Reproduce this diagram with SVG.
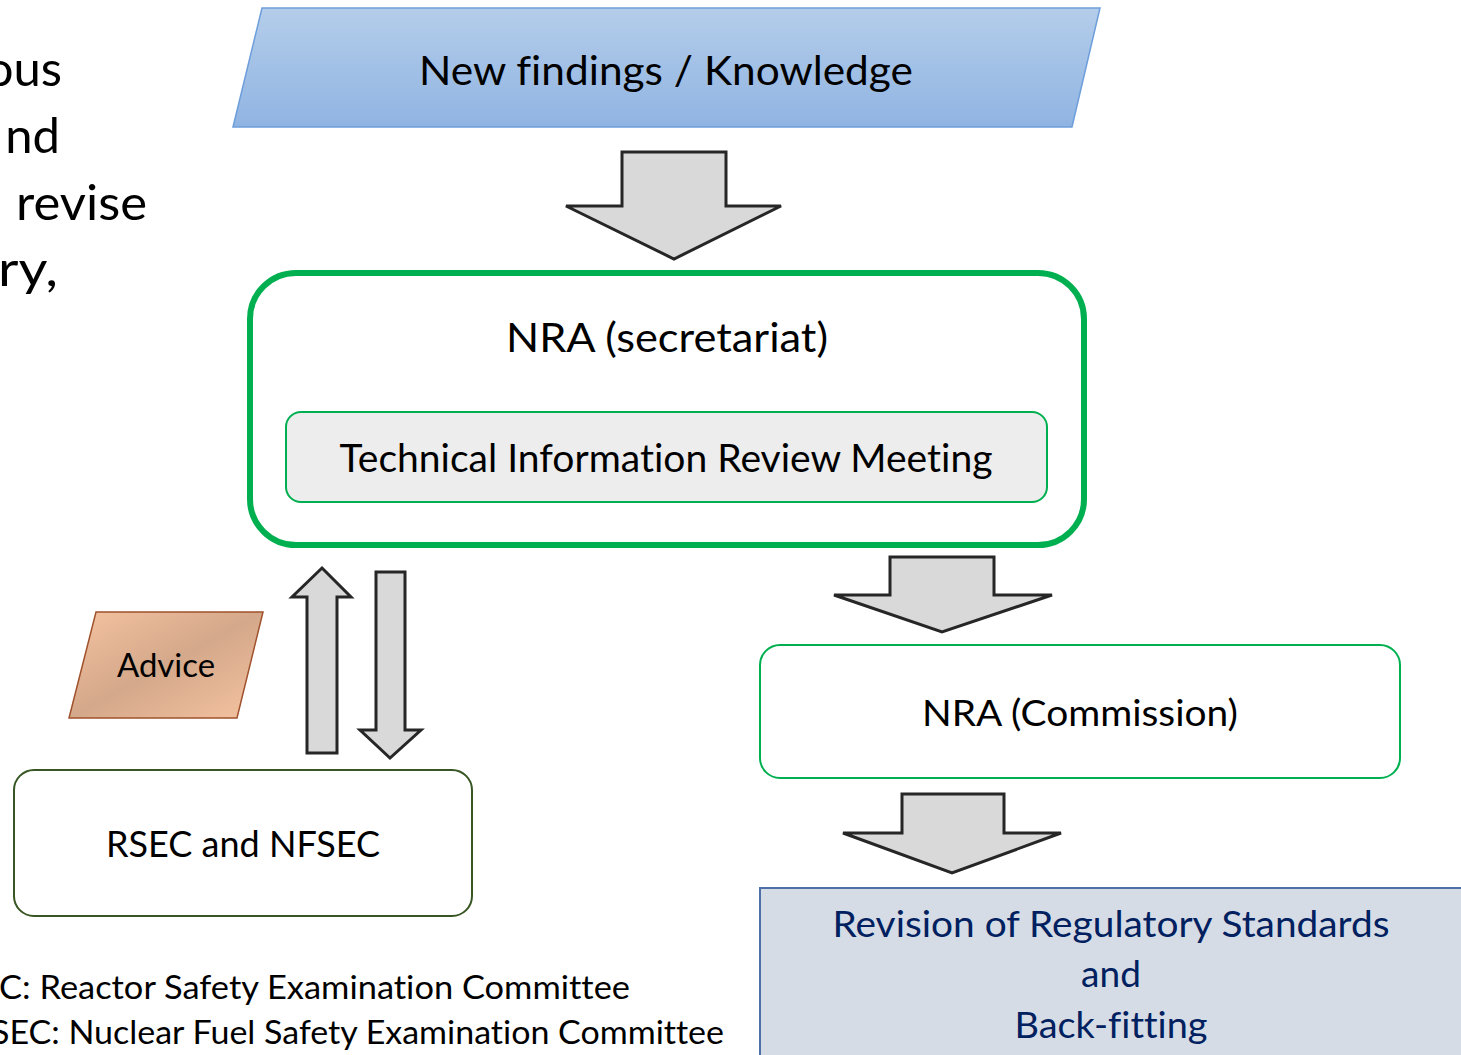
<svg xmlns="http://www.w3.org/2000/svg" width="1461" height="1055" viewBox="0 0 1461 1055">
  <style>
    text { font-family: Lato, "Open Sans", "Liberation Sans", sans-serif; fill: #000; font-variant-ligatures: none; }
    .block { fill: #d9d9d9; stroke: #262626; stroke-width: 3; stroke-linejoin: miter; }
    .green { fill: #fff; stroke: #00b050; stroke-width: 2; }
    .mid { text-anchor: middle; }
    .navy { fill: #002060; }
  </style>
  <defs>
    <linearGradient id="blueFill" x1="0" y1="0" x2="0" y2="1">
      <stop offset="0" stop-color="#b4cdea"/>
      <stop offset="1" stop-color="#90b4e2"/>
    </linearGradient>
    <linearGradient id="peachFill" x1="0" y1="0" x2="1" y2="1">
      <stop offset="0" stop-color="#f5c3a1"/>
      <stop offset="0.5" stop-color="#d4a88a"/>
      <stop offset="1" stop-color="#f5c3a1"/>
    </linearGradient>
  </defs>

  <!-- body text running in from the left -->
  <g id="side-text" font-size="49">
    <text x="62" y="86" text-anchor="end">ous</text>
    <text x="60" y="153" text-anchor="end">nd</text>
    <text x="16" y="220" textLength="131" lengthAdjust="spacingAndGlyphs">revise</text>
    <text x="58" y="286" text-anchor="end" textLength="60" lengthAdjust="spacingAndGlyphs">ry,</text>
  </g>

  <!-- input: new findings -->
  <g id="new-findings">
    <polygon points="262,8 1100,8 1072,127 233,127" fill="url(#blueFill)" stroke="#6d9edb" stroke-width="1.5"/>
    <text x="666" y="85" class="mid" font-size="41" textLength="494" lengthAdjust="spacingAndGlyphs">New findings / Knowledge</text>
  </g>

  <!-- secretariat with review meeting inside -->
  <g id="nra-secretariat">
    <rect x="250" y="273" width="834" height="272" rx="46" fill="#fff" stroke="#00b050" stroke-width="6"/>
    <text x="667" y="352" class="mid" font-size="41" textLength="322" lengthAdjust="spacingAndGlyphs">NRA (secretariat)</text>
  </g>
  <g id="review-meeting">
    <rect x="286" y="412" width="761" height="90" rx="15" fill="#ededed" stroke="#00b050" stroke-width="2"/>
    <text x="666" y="472" class="mid" font-size="38" textLength="653" lengthAdjust="spacingAndGlyphs">Technical Information Review Meeting</text>
  </g>

  <!-- advice label -->
  <g id="advice">
    <polygon points="96,612 263,612 237,718 69,718" fill="url(#peachFill)" stroke="#a0522d" stroke-width="1.5"/>
    <text x="166" y="677" class="mid" font-size="32" textLength="98" lengthAdjust="spacingAndGlyphs">Advice</text>
  </g>

  <!-- committees -->
  <g id="rsec-nfsec">
    <rect x="14" y="770" width="458" height="146" rx="20" fill="#fff" stroke="#375623" stroke-width="2"/>
    <text x="243" y="857" class="mid" font-size="36" textLength="274" lengthAdjust="spacingAndGlyphs">RSEC and NFSEC</text>
  </g>

  <!-- commission -->
  <g id="nra-commission">
    <rect x="760" y="645" width="640" height="133" rx="20" class="green"/>
    <text x="1080" y="726" class="mid" font-size="37" textLength="316" lengthAdjust="spacingAndGlyphs">NRA (Commission)</text>
  </g>

  <!-- outcome -->
  <g id="revision">
    <rect x="760" y="888" width="720" height="190" fill="#d6dce5" stroke="#4f6fa8" stroke-width="2"/>
    <g font-size="37">
      <text x="1111" y="937" class="mid navy" textLength="557" lengthAdjust="spacingAndGlyphs">Revision of Regulatory Standards</text>
      <text x="1111" y="987" class="mid navy">and</text>
      <text x="1111" y="1038" class="mid navy" textLength="193" lengthAdjust="spacingAndGlyphs">Back-fitting</text>
    </g>
  </g>

  <!-- abbreviation notes -->
  <g id="notes" font-size="33">
    <text x="-1" y="999" textLength="631" lengthAdjust="spacingAndGlyphs">C: Reactor Safety Examination Committee</text>
    <text x="-9" y="1044" textLength="733" lengthAdjust="spacingAndGlyphs">SEC: Nuclear Fuel Safety Examination Committee</text>
  </g>

  <!-- block arrows -->
  <g id="connectors">
    <polygon class="block" points="622,152 726,152 726,206 781,206 674,259 566,206 622,206"/>
    <polygon class="block" points="890,557 994,557 994,595 1052,595 942,632 834,595 890,595"/>
    <polygon class="block" points="902,794 1004,794 1004,833 1061,833 952,873 843,833 902,833"/>
    <polygon class="block" points="322,568 351,597 337,597 337,753 307,753 307,597 292,597"/>
    <polygon class="block" points="376,572 405,572 405,730 421,730 390,758 360,730 376,730"/>
  </g>
</svg>
